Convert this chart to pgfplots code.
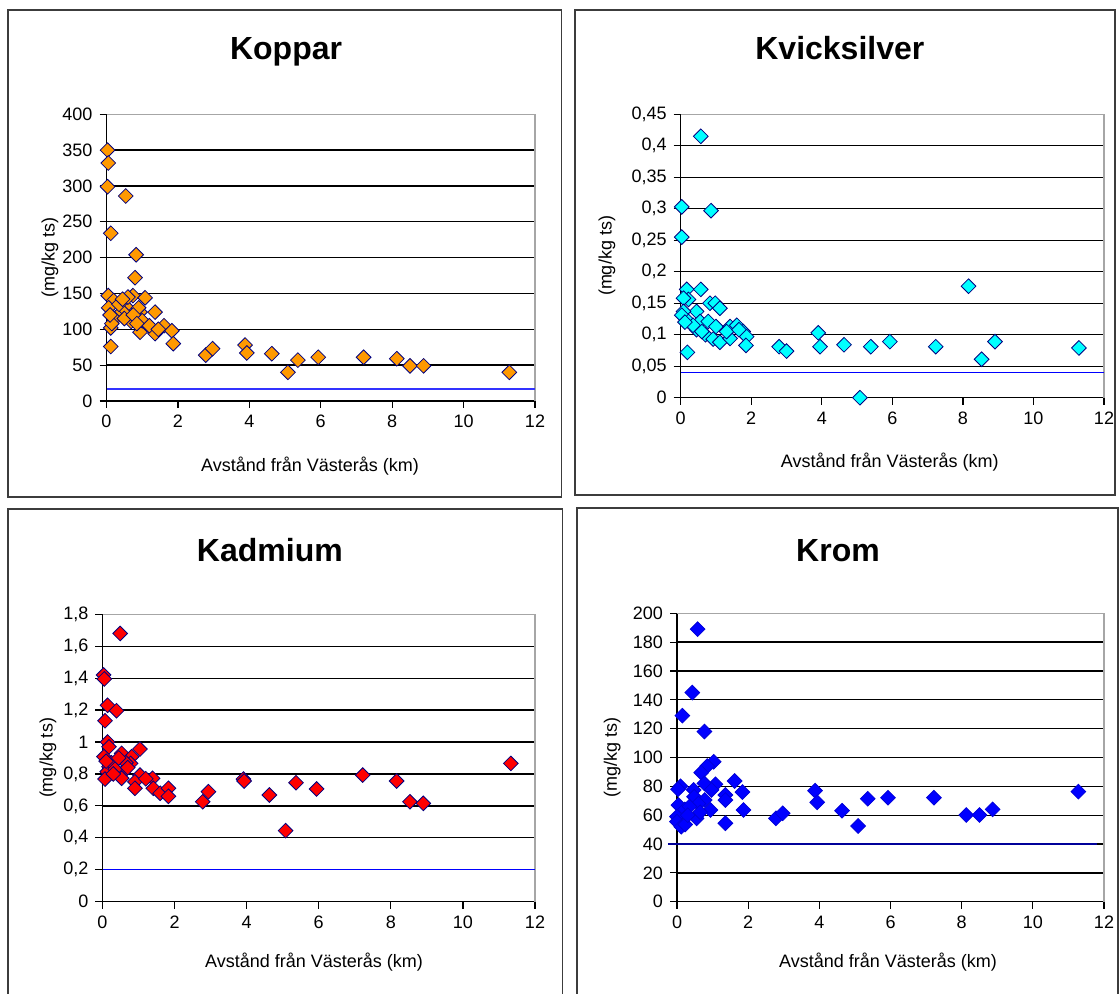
\documentclass[border=0pt]{standalone}
\usepackage{fontspec}
\setmainfont{Liberation Sans}
\usepackage{pgfplots}
\pgfplotsset{compat=1.18}

\definecolor{kopparfill}{RGB}{255,153,0}
\definecolor{hgfill}{RGB}{0,255,255}
\definecolor{cdfill}{RGB}{255,0,0}
\definecolor{crfill}{RGB}{0,0,255}
\definecolor{markedge}{RGB}{0,0,128}
\definecolor{limitblue}{RGB}{51,51,255}
\definecolor{limitnavy}{RGB}{0,0,153}
\definecolor{framegray}{RGB}{60,60,60}

\pgfplotsset{
  every axis title shift=0pt,
  panel/.style={
    scale only axis,
    anchor=south west,
    xmin=0, xmax=12, xtick={0,2,...,12},
    axis x line*=bottom, axis y line*=left,
    axis line style={black, line width=0.6pt},
    tick style={black, line width=0.6pt},
    tick align=outside, major tick length=3.5pt,
    ymajorgrids, major grid style={black, line width=0.65pt},
    clip=false,
    tick label style={font=\fontsize{9}{11}\selectfont},
    label style={font=\fontsize{9}{11}\selectfont},
    xlabel={Avstånd från Västerås (km)},
    ylabel={(mg/kg ts)},
    /pgf/number format/assume math mode=true,
  },
  paneltitle/.style 2 args={
    title style={at={(axis description cs:#1,#2)}, anchor=base,
      font=\fontsize{16}{19}\selectfont\bfseries},
  },
  dots/.style={only marks, mark=square*, mark size=2.6pt,
    mark options={rotate=45, draw=markedge, line width=0.4pt, fill=#1}},
}

\begin{document}
\begin{tikzpicture}
\useasboundingbox (0pt,0pt) rectangle (560pt,497pt);

% chart frames
\draw[framegray, line width=0.7pt] (4pt,248.5pt) rectangle (280.85pt,492pt);
\draw[framegray, line width=0.7pt] (287.5pt,249.5pt) rectangle (557.5pt,492pt);
\draw[framegray, line width=0.7pt] (4pt,-5pt) -- (4pt,242.5pt) -- (281.35pt,242.5pt) -- (281.35pt,-5pt);
\draw[framegray, line width=0.7pt] (288.5pt,-5pt) -- (288.5pt,243pt) -- (559pt,243pt) -- (559pt,-5pt);

% Koppar
\begin{axis}[panel, at={(53.25pt,296.5pt)}, width=214.25pt, height=143.35pt,
  ymin=0, ymax=400, ytick={0,50,...,400},
  title={Koppar}, paneltitle={0.419}{1.191},
  xlabel style={at={(axis description cs:0.475,-0.227)}, anchor=center},
  ylabel style={at={(axis description cs:-0.132,0.5)}, anchor=center}]
\draw[gray!70, line width=0.6pt] (rel axis cs:0,1) -- (rel axis cs:1,1) -- (rel axis cs:1,0);
\addplot[limitblue, line width=1pt] coordinates {(0,17) (12,17)};
\addplot[dots=kopparfill] coordinates {
 (0.03,350) (0.05,332) (0.03,299) (0.54,286) (0.12,234) (0.83,204) (0.80,172)
 (0.05,147) (0.20,140) (0.74,147) (1.08,144) (0.54,132) (0.60,145) (0.45,125)
 (0.06,130) (0.30,118) (0.94,124) (1.36,124) (0.20,116) (0.69,111) (0.12,102)
 (0.15,108) (0.94,96) (1.36,94) (1.61,105) (1.83,98) (1.87,80) (0.12,76)
 (0.50,115) (0.90,130) (1.00,112) (0.75,120) (0.35,135) (1.20,105) (0.45,142)
 (0.10,120) (0.85,108) (1.45,100)
 (2.78,64) (2.97,73) (3.88,78) (3.93,67) (4.63,66) (5.08,40) (5.36,57)
 (5.93,61) (7.20,61) (8.13,59) (8.50,49) (8.88,49) (11.28,40)
};
\end{axis}

% Kvicksilver
\begin{axis}[panel, at={(340.35pt,298.15pt)}, width=211.65pt, height=141.7pt,
  ymin=0, ymax=0.45, ytick={0,0.05,...,0.46},
  yticklabels={0,{0,05},{0,1},{0,15},{0,2},{0,25},{0,3},{0,35},{0,4},{0,45}},
  title={Kvicksilver}, paneltitle={0.376}{1.193},
  xlabel style={at={(axis description cs:0.494,-0.227)}, anchor=center},
  ylabel style={at={(axis description cs:-0.174,0.5)}, anchor=center}]
\draw[gray!70, line width=0.6pt] (rel axis cs:0,1) -- (rel axis cs:1,1) -- (rel axis cs:1,0);
\addplot[crfill, line width=0.6pt] coordinates {(0,0.04) (12,0.04)};
\addplot[dots=hgfill] coordinates {
 (0.57,0.415) (0.03,0.303) (0.86,0.297) (0.03,0.255) (0.17,0.172) (0.57,0.172)
 (0.22,0.156) (0.08,0.158) (0.45,0.137) (0.08,0.137) (0.83,0.150) (0.98,0.150)
 (1.11,0.142) (0.03,0.131) (0.22,0.121) (0.55,0.121) (0.78,0.121) (0.45,0.108)
 (1.00,0.113) (0.70,0.100) (0.92,0.093) (1.11,0.088) (1.40,0.094) (1.40,0.113)
 (1.59,0.115) (1.77,0.105) (1.87,0.097) (1.85,0.083) (0.19,0.072) (0.35,0.115)
 (0.60,0.105) (0.12,0.120) (1.30,0.105) (1.65,0.108)
 (2.79,0.081) (3.00,0.074) (3.90,0.103) (3.95,0.081) (4.63,0.084) (5.08,0.000)
 (5.39,0.081) (5.93,0.089) (7.23,0.081) (8.16,0.177) (8.53,0.061) (8.91,0.089)
 (11.29,0.079)
};
\end{axis}

% Kadmium
\begin{axis}[panel, at={(51.25pt,46.15pt)}, width=216.25pt, height=143.7pt,
  ymin=0, ymax=1.8, ytick={0,0.2,...,1.81},
  yticklabels={0,{0,2},{0,4},{0,6},{0,8},1,{1,2},{1,4},{1,6},{1,8}},
  title={Kadmium}, paneltitle={0.387}{1.182},
  xlabel style={at={(axis description cs:0.489,-0.21)}, anchor=center},
  ylabel style={at={(axis description cs:-0.126,0.5)}, anchor=center}]
\draw[gray!70, line width=0.6pt] (rel axis cs:0,1) -- (rel axis cs:1,1) -- (rel axis cs:1,0);
\addplot[crfill, line width=0.6pt] coordinates {(0,0.2) (12,0.2)};
\addplot[dots=cdfill] coordinates {
 (0.49,1.68) (0.03,1.42) (0.05,1.395) (0.14,1.23) (0.39,1.196) (0.07,1.133)
 (0.14,1.00) (0.18,0.97) (1.04,0.956) (0.04,0.908) (0.53,0.929) (0.81,0.908)
 (0.78,0.866) (0.18,0.845) (0.13,0.814) (0.58,0.814) (0.07,0.768) (0.53,0.773)
 (1.04,0.793) (0.90,0.751) (0.90,0.710) (1.39,0.773) (1.41,0.710) (1.60,0.679)
 (1.83,0.710) (1.83,0.660) (0.25,0.870) (0.35,0.830) (0.65,0.870) (0.70,0.840)
 (0.30,0.800) (0.10,0.880) (0.45,0.900) (1.20,0.770)
 (2.78,0.626) (2.94,0.689) (3.91,0.768) (3.93,0.756) (4.63,0.668) (5.08,0.445)
 (5.37,0.745) (5.94,0.706) (7.22,0.793) (8.16,0.756) (8.53,0.626) (8.90,0.616)
 (11.33,0.866)
};
\end{axis}

% Krom
\begin{axis}[panel, at={(338.5pt,46.15pt)}, width=213.5pt, height=144.2pt,
  ymin=0, ymax=200, ytick={0,20,...,200},
  title={Krom}, paneltitle={0.377}{1.178},
  xlabel style={at={(axis description cs:0.494,-0.209)}, anchor=center},
  ylabel style={at={(axis description cs:-0.152,0.5)}, anchor=center}]
\draw[gray!70, line width=0.6pt] (rel axis cs:0,1) -- (rel axis cs:1,1) -- (rel axis cs:1,0);
\addplot[limitnavy, line width=1.1pt] coordinates {(-0.26,40) (11.79,40)};
\addplot[only marks, mark=square*, mark size=2.6pt,
  mark options={rotate=45, draw=crfill!85!black, line width=0.4pt, fill=crfill}] coordinates {
 (0.58,189) (0.43,145) (0.15,129) (0.77,118) (1.03,97) (0.85,94) (0.68,89.5)
 (1.08,81.4) (0.77,82) (0.10,80) (0.03,78) (0.47,77.5) (0.97,77.5) (1.62,83.7)
 (1.84,76) (1.36,74) (1.36,70.5) (0.48,72.8) (0.78,70.5) (0.04,67) (0.22,64)
 (0.60,68) (0.94,63.6) (1.87,63.6) (0.00,59) (0.55,57.8) (0.00,55.5) (0.12,52)
 (0.23,53.5) (1.36,54.4) (0.35,66) (0.65,62) (0.30,60)
 (2.78,57.8) (2.97,61.3) (3.88,77) (3.94,68.9) (4.64,63.1) (5.09,52.5)
 (5.36,71.4) (5.93,72.1) (7.22,72.1) (8.13,60.1) (8.50,60.1) (8.87,64)
 (11.28,76.3)
};
\end{axis}
\end{tikzpicture}
\end{document}
